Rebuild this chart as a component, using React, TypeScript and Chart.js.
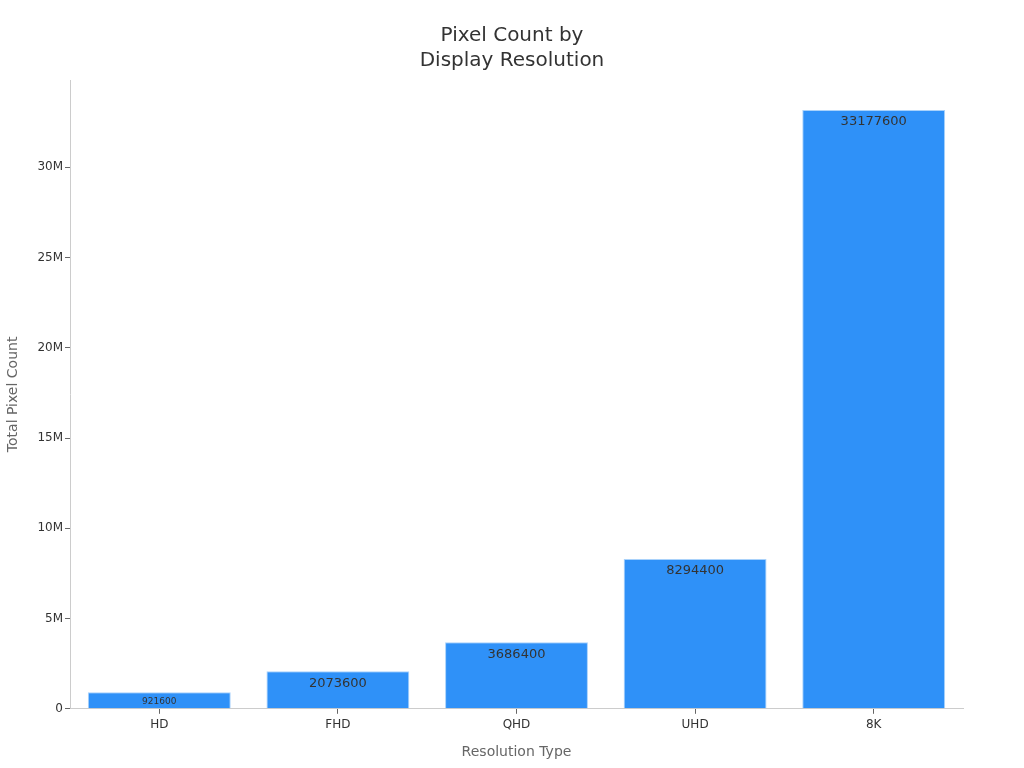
import React, { useEffect, useRef } from "react";
import { Chart, registerables } from "chart.js";

Chart.register(...registerables);

const categories = ["HD", "FHD", "QHD", "UHD", "8K"];
const pixelCounts = [921600, 2073600, 3686400, 8294400, 33177600];
const labelFontSizes = [9, 13, 13, 13, 13];
const yTickValues = [0, 5000000, 10000000, 15000000, 20000000, 25000000, 30000000];
const titleLines = ["Pixel Count by", "Display Resolution"];
const yTitle = "Total Pixel Count";
const xTitle = "Resolution Type";

const FONT = "'DejaVu Sans', sans-serif";

const barLabels = {
  id: "barLabels",
  afterDatasetsDraw(chart: any) {
    const ctx = chart.ctx;
    const meta = chart.getDatasetMeta(0);
    ctx.save();
    ctx.textAlign = "center";
    ctx.textBaseline = "middle";
    ctx.fillStyle = "#333333";
    meta.data.forEach((bar: any, i: number) => {
      const size = labelFontSizes[i];
      ctx.font = `${size}px ${FONT}`;
      ctx.fillText(String(pixelCounts[i]), bar.x, bar.y + (size < 10 ? 9 : 12));
    });
    ctx.restore();
  },
};

export default function App() {
  const ref = useRef<HTMLCanvasElement | null>(null);
  useEffect(() => {
    if (!ref.current) return;
    const chart = new Chart(ref.current, {
      type: "bar",
      data: {
        labels: categories,
        datasets: [
          {
            data: pixelCounts,
            backgroundColor: "#2f91f8",
            borderColor: "#a9d2fb",
            borderWidth: 1,
            barPercentage: 0.8,
            categoryPercentage: 1,
          },
        ],
      },
      options: {
        animation: false,
        responsive: true,
        maintainAspectRatio: false,
        layout: { padding: { left: 0, right: 0, top: 23, bottom: 7 } },
        plugins: {
          legend: { display: false },
          tooltip: { enabled: false },
          title: {
            display: true,
            text: titleLines,
            color: "#333333",
            font: { family: FONT, size: 20, weight: "normal", lineHeight: 1.25 },
            padding: { top: 0, bottom: 7 },
          },
        },
        scales: {
          x: {
            grid: { display: true, offset: false, drawOnChartArea: false, drawTicks: true, tickLength: 5, color: "#cccccc", tickColor: "#666666" },
            border: { display: true, color: "#cccccc" },
            ticks: { color: "#333333", font: { family: FONT, size: 12 }, padding: 4 },
            title: { display: true, text: xTitle, color: "#666666", font: { family: FONT, size: 14 }, padding: { top: 8, bottom: 0 } },
          },
          y: {
            min: 0,
            max: 34836480,
            afterFit(scale: any) {
              scale.width = 70;
            },
            afterBuildTicks(scale: any) {
              scale.ticks = yTickValues.map((v) => ({ value: v }));
            },
            grid: { display: true, drawOnChartArea: false, drawTicks: true, tickLength: 5, color: "#cccccc", tickColor: "#666666" },
            border: { display: true, color: "#cccccc" },
            ticks: {
              color: "#333333",
              font: { family: FONT, size: 12 },
              padding: 2,
              callback: (v: any) => (Number(v) === 0 ? "0" : Number(v) / 1e6 + "M"),
            },
            title: { display: true, text: yTitle, color: "#666666", font: { family: FONT, size: 14 }, padding: { top: 5, bottom: 0 } },
          },
          yRight: {
            position: "right",
            display: true,
            min: 0,
            max: 1,
            afterFit(scale: any) {
              scale.width = 61;
            },
            grid: { display: false },
            border: { display: false },
            ticks: { display: false },
          },
        },
      },
      plugins: [barLabels],
    });
    return () => chart.destroy();
  }, []);
  return (
    <div style={{ position: "fixed", left: 0, top: 0, width: 1024, height: 768, background: "#fff" }}>
      <canvas ref={ref} />
    </div>
  );
}
